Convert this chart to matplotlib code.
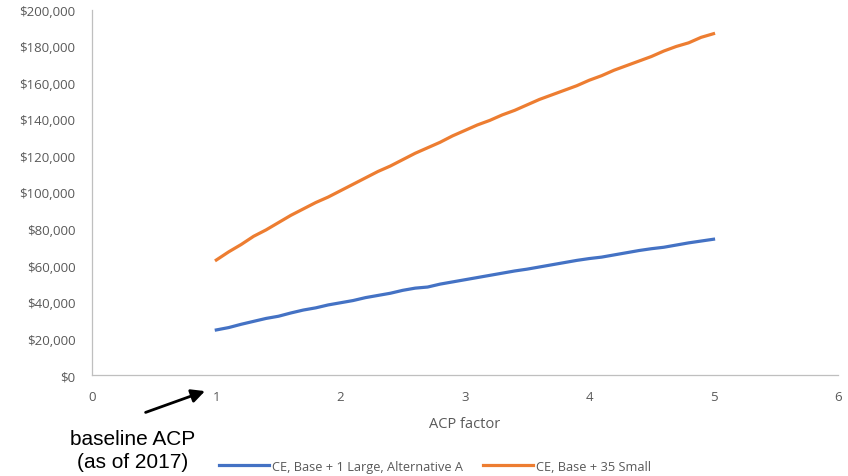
import matplotlib.pyplot as plt
from matplotlib.ticker import FuncFormatter

# ACP factor from 1.0 to 5.0 in steps of 0.1
acp_factor = [round(1 + 0.1 * i, 1) for i in range(41)]

large_alt_a = [
    24.7, 26.0, 27.8, 29.4, 31.0, 32.2, 34.0, 35.6, 36.8, 38.4,
    39.6, 40.8, 42.4, 43.6, 44.8, 46.4, 47.6, 48.2, 49.8, 51.0,
    52.2, 53.4, 54.6, 55.8, 57.0, 58.0, 59.2, 60.4, 61.6, 62.8,
    63.8, 64.6, 65.8, 67.0, 68.2, 69.2, 70.0, 71.2, 72.4, 73.4,
    74.4,
]
small_35 = [
    63.0, 67.5, 71.5, 76.0, 79.5, 83.5, 87.5, 91.0, 94.5, 97.5,
    101.0, 104.5, 108.0, 111.5, 114.5, 118.0, 121.5, 124.5, 127.5, 131.0,
    134.0, 137.0, 139.5, 142.5, 145.0, 148.0, 151.0, 153.5, 156.0, 158.5,
    161.5, 164.0, 167.0, 169.5, 172.0, 174.5, 177.5, 180.0, 182.0, 185.0,
    187.0,
]
# values are in thousands of dollars
large_alt_a = [v * 1000 for v in large_alt_a]
small_35 = [v * 1000 for v in small_35]

series_names = ["CE, Base + 1 Large, Alternative A", "CE, Base + 35 Small"]
colors = ["#4472C4", "#ED7D31"]

plt.rcParams["font.family"] = ["Open Sans", "DejaVu Sans"]

fig = plt.figure(figsize=(8.48, 4.77), dpi=100)
ax = fig.add_axes([0.1085, 0.2117, 0.8795, 0.7653])

ax.plot(acp_factor, large_alt_a, color=colors[0], lw=2.3, label=series_names[0])
ax.plot(acp_factor, small_35, color=colors[1], lw=2.3, label=series_names[1])

ax.set_xlim(0, 6)
ax.set_ylim(0, 200000)
ax.set_xticks(range(0, 7))
ax.set_yticks(range(0, 200001, 20000))
ax.yaxis.set_major_formatter(FuncFormatter(lambda v, p: f"${v:,.0f}"))

for side in ["top", "right"]:
    ax.spines[side].set_visible(False)
for side in ["left", "bottom"]:
    ax.spines[side].set_color("#bfbfbf")
    ax.spines[side].set_linewidth(0.9)

ax.tick_params(length=0, labelsize=9.5, labelcolor="#595959", pad=11)
ax.tick_params(axis="y", pad=12)
ax.set_xlabel("ACP factor", fontsize=10.5, color="#595959", labelpad=9)

fig.legend(loc="lower center", bbox_to_anchor=(0.513, -0.017), ncol=2,
           frameon=False, fontsize=9.2, handlelength=3.9, handletextpad=0.2,
           columnspacing=1.6, labelcolor="#595959")

ax.annotate("", xy=(0.93, -8300), xytext=(0.41, -21000),
            annotation_clip=False,
            arrowprops=dict(arrowstyle="-|>", color="black", lw=2,
                            mutation_scale=20))
fig.text(0.156, 0.011, "baseline ACP\n(as of 2017)", ha="center", va="bottom",
         fontsize=15, family="Liberation Sans", linespacing=1.25)

fig.savefig("out.png", dpi=100)
